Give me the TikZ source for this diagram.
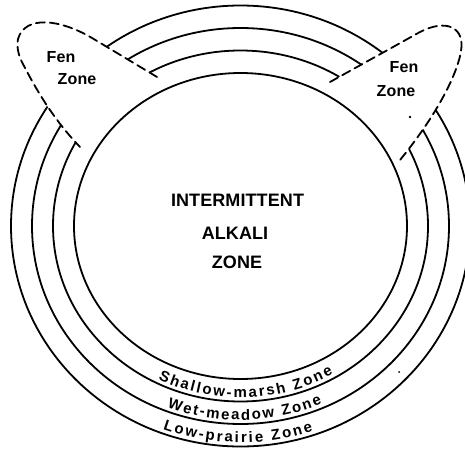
\documentclass[tikz,border=0pt]{standalone}
\usepackage{fontspec}
\setmainfont{Liberation Sans}
\newfontfamily\capsfont[LetterSpace=0.5]{Liberation Sans}
\newfontfamily\fenfont[LetterSpace=1]{Liberation Sans}
\newcommand\bandfont{\bfseries\fontsize{15}{15}\selectfont}
\usetikzlibrary{decorations.text}

\begin{document}
\begin{tikzpicture}[x=1pt, y=1pt,
  ring/.style={line width=1.8pt},
  fen/.style={line width=1.8pt, dash pattern=on 9pt off 5pt, line cap=round},
  fenlabel/.style={inner sep=0pt, font=\fenfont\bfseries\fontsize{16}{16}\selectfont},
  bigzone/.style={inner sep=0pt, font=\capsfont\bfseries\fontsize{18}{18}\selectfont},
  band/.style={decorate, decoration={text along path, text align={fit to path}, text={|\bandfont|#1}}}]

\path[use as bounding box, fill=white] (0,0) rectangle (465,451);
\clip (0,0) rectangle (465,451);

\coordinate (c) at (240.5,225);

\draw[ring] (c) ellipse [x radius=187.5, y radius=175.5];
\draw[ring] (c) ellipse [x radius=208.5, y radius=198];
\draw[ring] (c) ellipse [x radius=229.5, y radius=220.5];

\fill[white] (157,374) -- (92,413) .. controls (60,432) and (25,436) .. (18,412)
  .. controls (16,402) and (20,392) .. (24,385) .. controls (38,358) and (55,330) .. (80,304) -- cycle;
\fill[white] (330,369) -- (420,419) .. controls (445,432) and (465,425) .. (461,400)
  .. controls (458,380) and (440,340) .. (400,291) -- cycle;

\draw[ring] (c) ellipse [x radius=166.5, y radius=153];

\draw[fen] (157,374) -- (92,413) .. controls (60,432) and (25,436) .. (18,412)
  .. controls (16,402) and (20,392) .. (24,385) .. controls (38,358) and (55,330) .. (80,304);
\draw[fen] (330,369) -- (420,419) .. controls (445,432) and (465,425) .. (461,400)
  .. controls (458,380) and (440,340) .. (400,291);

\node[fenlabel] (fenl) at (61,394) {Fen};
\node[fenlabel] (zonel) at (77,372) {Zone};
\node[fenlabel] (fenr) at (404,383.5) {Fen};
\node[fenlabel] (zoner) at (396,360) {Zone};

\node[bigzone] (inter) at (237.5,251) {INTERMITTENT};
\node[bigzone] (alkali) at (235,218) {ALKALI};
\node[bigzone] (zone) at (237,189) {ZONE};

\path[band=Shallow-marsh Zone] ([shift={(c)}]243.3:183.5 and 171.5)
  arc [start angle=243.3, end angle=300.3, x radius=183.5, y radius=171.5];
\path[band=Wet-meadow Zone] ([shift={(c)}]249:204.5 and 194)
  arc [start angle=249, end angle=293.5, x radius=204.5, y radius=194];
\path[band=Low-prairie Zone] ([shift={(c)}]249.9:225.5 and 216.5)
  arc [start angle=249.9, end angle=288.75, x radius=225.5, y radius=216.5];

\fill (410,334) circle (1.3);
\fill (399,79) circle (1);
\end{tikzpicture}
\end{document}
